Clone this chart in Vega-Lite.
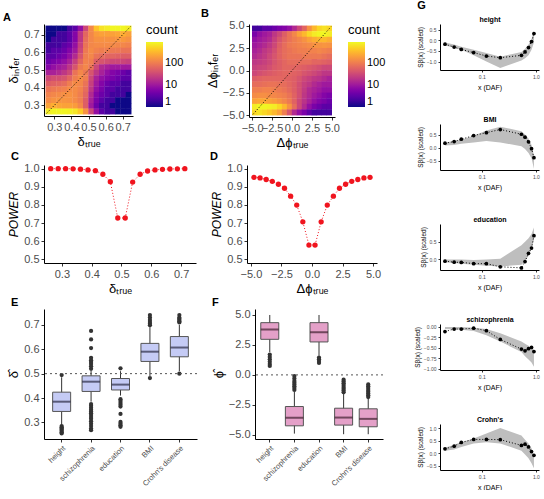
{
"$schema":"https://vega.github.io/schema/vega-lite/v6.json",
"padding":{"left":3,"top":0,"right":1,"bottom":0},
"align":"none",
"config":{
 "font":"Liberation Sans",
 "view":{"stroke":null},
 "axis":{"grid":false,"domainColor":"#000","tickColor":"#333","labelColor":"#4d4d4d","titleColor":"#000","titleFontWeight":"normal","tickSize":3,"labelPadding":2,"labelFontSize":11,"titleFontSize":13,"labelOverlap":false,"titlePadding":3},
 "title":{"fontWeight":"bold","color":"#000"},
 "legend":{"titleFontWeight":"normal","titleFontSize":13,"labelFontSize":11,"labelColor":"#000","titleColor":"#000"}
},
"datasets":{
"heatA":[
{"dt":0.2656,"di":0.7344,"n":1},{"dt":0.2969,"di":0.7344,"n":1},{"dt":0.3281,"di":0.7344,"n":1},{"dt":0.3594,"di":0.7344,"n":1},{"dt":0.3906,"di":0.7344,"n":2},{"dt":0.4219,"di":0.7344,"n":3},{"dt":0.4531,"di":0.7344,"n":8},{"dt":0.4844,"di":0.7344,"n":30},{"dt":0.5156,"di":0.7344,"n":120},{"dt":0.5469,"di":0.7344,"n":350},{"dt":0.5781,"di":0.7344,"n":600},{"dt":0.6094,"di":0.7344,"n":700},{"dt":0.6406,"di":0.7344,"n":800},{"dt":0.6719,"di":0.7344,"n":800},{"dt":0.7031,"di":0.7344,"n":800},{"dt":0.7344,"di":0.7344,"n":700},
{"dt":0.2656,"di":0.7031,"n":1},{"dt":0.2969,"di":0.7031,"n":1},{"dt":0.3281,"di":0.7031,"n":2},{"dt":0.3594,"di":0.7031,"n":2},{"dt":0.3906,"di":0.7031,"n":3},{"dt":0.4219,"di":0.7031,"n":6},{"dt":0.4531,"di":0.7031,"n":20},{"dt":0.4844,"di":0.7031,"n":60},{"dt":0.5156,"di":0.7031,"n":120},{"dt":0.5469,"di":0.7031,"n":180},{"dt":0.5781,"di":0.7031,"n":200},{"dt":0.6094,"di":0.7031,"n":200},{"dt":0.6406,"di":0.7031,"n":200},{"dt":0.6719,"di":0.7031,"n":220},{"dt":0.7031,"di":0.7031,"n":250},{"dt":0.7344,"di":0.7031,"n":200},
{"dt":0.2656,"di":0.6719,"n":1},{"dt":0.2969,"di":0.6719,"n":2},{"dt":0.3281,"di":0.6719,"n":2},{"dt":0.3594,"di":0.6719,"n":2},{"dt":0.3906,"di":0.6719,"n":3},{"dt":0.4219,"di":0.6719,"n":6},{"dt":0.4531,"di":0.6719,"n":20},{"dt":0.4844,"di":0.6719,"n":70},{"dt":0.5156,"di":0.6719,"n":120},{"dt":0.5469,"di":0.6719,"n":150},{"dt":0.5781,"di":0.6719,"n":150},{"dt":0.6094,"di":0.6719,"n":150},{"dt":0.6406,"di":0.6719,"n":150},{"dt":0.6719,"di":0.6719,"n":160},{"dt":0.7031,"di":0.6719,"n":170},{"dt":0.7344,"di":0.6719,"n":150},
{"dt":0.2656,"di":0.6406,"n":2},{"dt":0.2969,"di":0.6406,"n":2},{"dt":0.3281,"di":0.6406,"n":2},{"dt":0.3594,"di":0.6406,"n":3},{"dt":0.3906,"di":0.6406,"n":4},{"dt":0.4219,"di":0.6406,"n":8},{"dt":0.4531,"di":0.6406,"n":25},{"dt":0.4844,"di":0.6406,"n":80},{"dt":0.5156,"di":0.6406,"n":120},{"dt":0.5469,"di":0.6406,"n":130},{"dt":0.5781,"di":0.6406,"n":130},{"dt":0.6094,"di":0.6406,"n":130},{"dt":0.6406,"di":0.6406,"n":130},{"dt":0.6719,"di":0.6406,"n":120},{"dt":0.7031,"di":0.6406,"n":120},{"dt":0.7344,"di":0.6406,"n":110},
{"dt":0.2656,"di":0.6094,"n":2},{"dt":0.2969,"di":0.6094,"n":3},{"dt":0.3281,"di":0.6094,"n":3},{"dt":0.3594,"di":0.6094,"n":4},{"dt":0.3906,"di":0.6094,"n":6},{"dt":0.4219,"di":0.6094,"n":10},{"dt":0.4531,"di":0.6094,"n":30},{"dt":0.4844,"di":0.6094,"n":90},{"dt":0.5156,"di":0.6094,"n":130},{"dt":0.5469,"di":0.6094,"n":110},{"dt":0.5781,"di":0.6094,"n":100},{"dt":0.6094,"di":0.6094,"n":100},{"dt":0.6406,"di":0.6094,"n":90},{"dt":0.6719,"di":0.6094,"n":90},{"dt":0.7031,"di":0.6094,"n":80},{"dt":0.7344,"di":0.6094,"n":80},
{"dt":0.2656,"di":0.5781,"n":3},{"dt":0.2969,"di":0.5781,"n":3},{"dt":0.3281,"di":0.5781,"n":4},{"dt":0.3594,"di":0.5781,"n":5},{"dt":0.3906,"di":0.5781,"n":8},{"dt":0.4219,"di":0.5781,"n":15},{"dt":0.4531,"di":0.5781,"n":40},{"dt":0.4844,"di":0.5781,"n":100},{"dt":0.5156,"di":0.5781,"n":120},{"dt":0.5469,"di":0.5781,"n":80},{"dt":0.5781,"di":0.5781,"n":70},{"dt":0.6094,"di":0.5781,"n":60},{"dt":0.6406,"di":0.5781,"n":60},{"dt":0.6719,"di":0.5781,"n":55},{"dt":0.7031,"di":0.5781,"n":50},{"dt":0.7344,"di":0.5781,"n":50},
{"dt":0.2656,"di":0.5469,"n":4},{"dt":0.2969,"di":0.5469,"n":5},{"dt":0.3281,"di":0.5469,"n":6},{"dt":0.3594,"di":0.5469,"n":8},{"dt":0.3906,"di":0.5469,"n":12},{"dt":0.4219,"di":0.5469,"n":25},{"dt":0.4531,"di":0.5469,"n":60},{"dt":0.4844,"di":0.5469,"n":110},{"dt":0.5156,"di":0.5469,"n":100},{"dt":0.5469,"di":0.5469,"n":50},{"dt":0.5781,"di":0.5469,"n":40},{"dt":0.6094,"di":0.5469,"n":35},{"dt":0.6406,"di":0.5469,"n":30},{"dt":0.6719,"di":0.5469,"n":30},{"dt":0.7031,"di":0.5469,"n":28},{"dt":0.7344,"di":0.5469,"n":25},
{"dt":0.2656,"di":0.5156,"n":6},{"dt":0.2969,"di":0.5156,"n":8},{"dt":0.3281,"di":0.5156,"n":10},{"dt":0.3594,"di":0.5156,"n":12},{"dt":0.3906,"di":0.5156,"n":20},{"dt":0.4219,"di":0.5156,"n":40},{"dt":0.4531,"di":0.5156,"n":90},{"dt":0.4844,"di":0.5156,"n":120},{"dt":0.5156,"di":0.5156,"n":80},{"dt":0.5469,"di":0.5156,"n":30},{"dt":0.5781,"di":0.5156,"n":15},{"dt":0.6094,"di":0.5156,"n":12},{"dt":0.6406,"di":0.5156,"n":10},{"dt":0.6719,"di":0.5156,"n":10},{"dt":0.7031,"di":0.5156,"n":10},{"dt":0.7344,"di":0.5156,"n":10},
{"dt":0.2656,"di":0.4844,"n":12},{"dt":0.2969,"di":0.4844,"n":12},{"dt":0.3281,"di":0.4844,"n":15},{"dt":0.3594,"di":0.4844,"n":20},{"dt":0.3906,"di":0.4844,"n":30},{"dt":0.4219,"di":0.4844,"n":80},{"dt":0.4531,"di":0.4844,"n":120},{"dt":0.4844,"di":0.4844,"n":90},{"dt":0.5156,"di":0.4844,"n":40},{"dt":0.5469,"di":0.4844,"n":20},{"dt":0.5781,"di":0.4844,"n":12},{"dt":0.6094,"di":0.4844,"n":8},{"dt":0.6406,"di":0.4844,"n":6},{"dt":0.6719,"di":0.4844,"n":5},{"dt":0.7031,"di":0.4844,"n":4},{"dt":0.7344,"di":0.4844,"n":3},
{"dt":0.2656,"di":0.4531,"n":30},{"dt":0.2969,"di":0.4531,"n":35},{"dt":0.3281,"di":0.4531,"n":35},{"dt":0.3594,"di":0.4531,"n":40},{"dt":0.3906,"di":0.4531,"n":60},{"dt":0.4219,"di":0.4531,"n":100},{"dt":0.4531,"di":0.4531,"n":130},{"dt":0.4844,"di":0.4531,"n":100},{"dt":0.5156,"di":0.4531,"n":30},{"dt":0.5469,"di":0.4531,"n":12},{"dt":0.5781,"di":0.4531,"n":8},{"dt":0.6094,"di":0.4531,"n":6},{"dt":0.6406,"di":0.4531,"n":5},{"dt":0.6719,"di":0.4531,"n":4},{"dt":0.7031,"di":0.4531,"n":3},{"dt":0.7344,"di":0.4531,"n":3},
{"dt":0.2656,"di":0.4219,"n":50},{"dt":0.2969,"di":0.4219,"n":55},{"dt":0.3281,"di":0.4219,"n":60},{"dt":0.3594,"di":0.4219,"n":70},{"dt":0.3906,"di":0.4219,"n":100},{"dt":0.4219,"di":0.4219,"n":130},{"dt":0.4531,"di":0.4219,"n":120},{"dt":0.4844,"di":0.4219,"n":80},{"dt":0.5156,"di":0.4219,"n":25},{"dt":0.5469,"di":0.4219,"n":10},{"dt":0.5781,"di":0.4219,"n":6},{"dt":0.6094,"di":0.4219,"n":4},{"dt":0.6406,"di":0.4219,"n":3},{"dt":0.6719,"di":0.4219,"n":3},{"dt":0.7031,"di":0.4219,"n":2},{"dt":0.7344,"di":0.4219,"n":2},
{"dt":0.2656,"di":0.3906,"n":80},{"dt":0.2969,"di":0.3906,"n":90},{"dt":0.3281,"di":0.3906,"n":100},{"dt":0.3594,"di":0.3906,"n":110},{"dt":0.3906,"di":0.3906,"n":130},{"dt":0.4219,"di":0.3906,"n":130},{"dt":0.4531,"di":0.3906,"n":110},{"dt":0.4844,"di":0.3906,"n":70},{"dt":0.5156,"di":0.3906,"n":20},{"dt":0.5469,"di":0.3906,"n":8},{"dt":0.5781,"di":0.3906,"n":5},{"dt":0.6094,"di":0.3906,"n":3},{"dt":0.6406,"di":0.3906,"n":3},{"dt":0.6719,"di":0.3906,"n":2},{"dt":0.7031,"di":0.3906,"n":2},{"dt":0.7344,"di":0.3906,"n":2},
{"dt":0.2656,"di":0.3594,"n":110},{"dt":0.2969,"di":0.3594,"n":120},{"dt":0.3281,"di":0.3594,"n":130},{"dt":0.3594,"di":0.3594,"n":140},{"dt":0.3906,"di":0.3594,"n":150},{"dt":0.4219,"di":0.3594,"n":130},{"dt":0.4531,"di":0.3594,"n":100},{"dt":0.4844,"di":0.3594,"n":60},{"dt":0.5156,"di":0.3594,"n":15},{"dt":0.5469,"di":0.3594,"n":6},{"dt":0.5781,"di":0.3594,"n":4},{"dt":0.6094,"di":0.3594,"n":3},{"dt":0.6406,"di":0.3594,"n":2},{"dt":0.6719,"di":0.3594,"n":2},{"dt":0.7031,"di":0.3594,"n":2},{"dt":0.7344,"di":0.3594,"n":1},
{"dt":0.2656,"di":0.3281,"n":130},{"dt":0.2969,"di":0.3281,"n":150},{"dt":0.3281,"di":0.3281,"n":160},{"dt":0.3594,"di":0.3281,"n":160},{"dt":0.3906,"di":0.3281,"n":150},{"dt":0.4219,"di":0.3281,"n":130},{"dt":0.4531,"di":0.3281,"n":100},{"dt":0.4844,"di":0.3281,"n":50},{"dt":0.5156,"di":0.3281,"n":12},{"dt":0.5469,"di":0.3281,"n":5},{"dt":0.5781,"di":0.3281,"n":3},{"dt":0.6094,"di":0.3281,"n":2},{"dt":0.6406,"di":0.3281,"n":2},{"dt":0.6719,"di":0.3281,"n":1},{"dt":0.7031,"di":0.3281,"n":1},{"dt":0.7344,"di":0.3281,"n":1},
{"dt":0.2656,"di":0.2969,"n":200},{"dt":0.2969,"di":0.2969,"n":250},{"dt":0.3281,"di":0.2969,"n":220},{"dt":0.3594,"di":0.2969,"n":200},{"dt":0.3906,"di":0.2969,"n":200},{"dt":0.4219,"di":0.2969,"n":180},{"dt":0.4531,"di":0.2969,"n":120},{"dt":0.4844,"di":0.2969,"n":50},{"dt":0.5156,"di":0.2969,"n":10},{"dt":0.5469,"di":0.2969,"n":4},{"dt":0.5781,"di":0.2969,"n":2},{"dt":0.6094,"di":0.2969,"n":2},{"dt":0.6406,"di":0.2969,"n":1},{"dt":0.6719,"di":0.2969,"n":1},{"dt":0.7031,"di":0.2969,"n":1},{"dt":0.7344,"di":0.2969,"n":1},
{"dt":0.2656,"di":0.2656,"n":700},{"dt":0.2969,"di":0.2656,"n":800},{"dt":0.3281,"di":0.2656,"n":800},{"dt":0.3594,"di":0.2656,"n":800},{"dt":0.3906,"di":0.2656,"n":750},{"dt":0.4219,"di":0.2656,"n":650},{"dt":0.4531,"di":0.2656,"n":400},{"dt":0.4844,"di":0.2656,"n":150},{"dt":0.5156,"di":0.2656,"n":30},{"dt":0.5469,"di":0.2656,"n":8},{"dt":0.5781,"di":0.2656,"n":3},{"dt":0.6094,"di":0.2656,"n":2},{"dt":0.6406,"di":0.2656,"n":2},{"dt":0.6719,"di":0.2656,"n":1},{"dt":0.7031,"di":0.2656,"n":1},{"dt":0.7344,"di":0.2656,"n":1}
],
"heatB":[
{"pt":-4.6875,"pi":4.6875,"n":2},{"pt":-4.0625,"pi":4.6875,"n":2},{"pt":-3.4375,"pi":4.6875,"n":3},{"pt":-2.8125,"pi":4.6875,"n":3},{"pt":-2.1875,"pi":4.6875,"n":4},{"pt":-1.5625,"pi":4.6875,"n":5},{"pt":-0.9375,"pi":4.6875,"n":6},{"pt":-0.3125,"pi":4.6875,"n":8},{"pt":0.3125,"pi":4.6875,"n":15},{"pt":0.9375,"pi":4.6875,"n":30},{"pt":1.5625,"pi":4.6875,"n":60},{"pt":2.1875,"pi":4.6875,"n":150},{"pt":2.8125,"pi":4.6875,"n":300},{"pt":3.4375,"pi":4.6875,"n":500},{"pt":4.0625,"pi":4.6875,"n":600},{"pt":4.6875,"pi":4.6875,"n":500},
{"pt":-4.6875,"pi":4.0625,"n":5},{"pt":-4.0625,"pi":4.0625,"n":8},{"pt":-3.4375,"pi":4.0625,"n":10},{"pt":-2.8125,"pi":4.0625,"n":12},{"pt":-2.1875,"pi":4.0625,"n":20},{"pt":-1.5625,"pi":4.0625,"n":30},{"pt":-0.9375,"pi":4.0625,"n":50},{"pt":-0.3125,"pi":4.0625,"n":80},{"pt":0.3125,"pi":4.0625,"n":120},{"pt":0.9375,"pi":4.0625,"n":200},{"pt":1.5625,"pi":4.0625,"n":300},{"pt":2.1875,"pi":4.0625,"n":500},{"pt":2.8125,"pi":4.0625,"n":700},{"pt":3.4375,"pi":4.0625,"n":800},{"pt":4.0625,"pi":4.0625,"n":800},{"pt":4.6875,"pi":4.0625,"n":700},
{"pt":-4.6875,"pi":3.4375,"n":8},{"pt":-4.0625,"pi":3.4375,"n":10},{"pt":-3.4375,"pi":3.4375,"n":12},{"pt":-2.8125,"pi":3.4375,"n":15},{"pt":-2.1875,"pi":3.4375,"n":25},{"pt":-1.5625,"pi":3.4375,"n":40},{"pt":-0.9375,"pi":3.4375,"n":60},{"pt":-0.3125,"pi":3.4375,"n":80},{"pt":0.3125,"pi":3.4375,"n":100},{"pt":0.9375,"pi":3.4375,"n":120},{"pt":1.5625,"pi":3.4375,"n":150},{"pt":2.1875,"pi":3.4375,"n":200},{"pt":2.8125,"pi":3.4375,"n":250},{"pt":3.4375,"pi":3.4375,"n":300},{"pt":4.0625,"pi":3.4375,"n":300},{"pt":4.6875,"pi":3.4375,"n":250},
{"pt":-4.6875,"pi":2.8125,"n":10},{"pt":-4.0625,"pi":2.8125,"n":12},{"pt":-3.4375,"pi":2.8125,"n":15},{"pt":-2.8125,"pi":2.8125,"n":20},{"pt":-2.1875,"pi":2.8125,"n":30},{"pt":-1.5625,"pi":2.8125,"n":50},{"pt":-0.9375,"pi":2.8125,"n":70},{"pt":-0.3125,"pi":2.8125,"n":90},{"pt":0.3125,"pi":2.8125,"n":100},{"pt":0.9375,"pi":2.8125,"n":110},{"pt":1.5625,"pi":2.8125,"n":120},{"pt":2.1875,"pi":2.8125,"n":130},{"pt":2.8125,"pi":2.8125,"n":150},{"pt":3.4375,"pi":2.8125,"n":150},{"pt":4.0625,"pi":2.8125,"n":160},{"pt":4.6875,"pi":2.8125,"n":150},
{"pt":-4.6875,"pi":2.1875,"n":12},{"pt":-4.0625,"pi":2.1875,"n":15},{"pt":-3.4375,"pi":2.1875,"n":20},{"pt":-2.8125,"pi":2.1875,"n":25},{"pt":-2.1875,"pi":2.1875,"n":35},{"pt":-1.5625,"pi":2.1875,"n":55},{"pt":-0.9375,"pi":2.1875,"n":70},{"pt":-0.3125,"pi":2.1875,"n":80},{"pt":0.3125,"pi":2.1875,"n":90},{"pt":0.9375,"pi":2.1875,"n":100},{"pt":1.5625,"pi":2.1875,"n":100},{"pt":2.1875,"pi":2.1875,"n":110},{"pt":2.8125,"pi":2.1875,"n":110},{"pt":3.4375,"pi":2.1875,"n":120},{"pt":4.0625,"pi":2.1875,"n":110},{"pt":4.6875,"pi":2.1875,"n":100},
{"pt":-4.6875,"pi":1.5625,"n":15},{"pt":-4.0625,"pi":1.5625,"n":18},{"pt":-3.4375,"pi":1.5625,"n":22},{"pt":-2.8125,"pi":1.5625,"n":30},{"pt":-2.1875,"pi":1.5625,"n":40},{"pt":-1.5625,"pi":1.5625,"n":55},{"pt":-0.9375,"pi":1.5625,"n":70},{"pt":-0.3125,"pi":1.5625,"n":80},{"pt":0.3125,"pi":1.5625,"n":80},{"pt":0.9375,"pi":1.5625,"n":80},{"pt":1.5625,"pi":1.5625,"n":90},{"pt":2.1875,"pi":1.5625,"n":90},{"pt":2.8125,"pi":1.5625,"n":90},{"pt":3.4375,"pi":1.5625,"n":90},{"pt":4.0625,"pi":1.5625,"n":80},{"pt":4.6875,"pi":1.5625,"n":70},
{"pt":-4.6875,"pi":0.9375,"n":20},{"pt":-4.0625,"pi":0.9375,"n":22},{"pt":-3.4375,"pi":0.9375,"n":25},{"pt":-2.8125,"pi":0.9375,"n":30},{"pt":-2.1875,"pi":0.9375,"n":40},{"pt":-1.5625,"pi":0.9375,"n":50},{"pt":-0.9375,"pi":0.9375,"n":60},{"pt":-0.3125,"pi":0.9375,"n":70},{"pt":0.3125,"pi":0.9375,"n":70},{"pt":0.9375,"pi":0.9375,"n":70},{"pt":1.5625,"pi":0.9375,"n":70},{"pt":2.1875,"pi":0.9375,"n":70},{"pt":2.8125,"pi":0.9375,"n":60},{"pt":3.4375,"pi":0.9375,"n":60},{"pt":4.0625,"pi":0.9375,"n":55},{"pt":4.6875,"pi":0.9375,"n":50},
{"pt":-4.6875,"pi":0.3125,"n":25},{"pt":-4.0625,"pi":0.3125,"n":28},{"pt":-3.4375,"pi":0.3125,"n":30},{"pt":-2.8125,"pi":0.3125,"n":35},{"pt":-2.1875,"pi":0.3125,"n":45},{"pt":-1.5625,"pi":0.3125,"n":50},{"pt":-0.9375,"pi":0.3125,"n":60},{"pt":-0.3125,"pi":0.3125,"n":60},{"pt":0.3125,"pi":0.3125,"n":60},{"pt":0.9375,"pi":0.3125,"n":55},{"pt":1.5625,"pi":0.3125,"n":50},{"pt":2.1875,"pi":0.3125,"n":45},{"pt":2.8125,"pi":0.3125,"n":40},{"pt":3.4375,"pi":0.3125,"n":35},{"pt":4.0625,"pi":0.3125,"n":30},{"pt":4.6875,"pi":0.3125,"n":30},
{"pt":-4.6875,"pi":-0.3125,"n":30},{"pt":-4.0625,"pi":-0.3125,"n":35},{"pt":-3.4375,"pi":-0.3125,"n":40},{"pt":-2.8125,"pi":-0.3125,"n":45},{"pt":-2.1875,"pi":-0.3125,"n":50},{"pt":-1.5625,"pi":-0.3125,"n":55},{"pt":-0.9375,"pi":-0.3125,"n":60},{"pt":-0.3125,"pi":-0.3125,"n":60},{"pt":0.3125,"pi":-0.3125,"n":55},{"pt":0.9375,"pi":-0.3125,"n":50},{"pt":1.5625,"pi":-0.3125,"n":40},{"pt":2.1875,"pi":-0.3125,"n":35},{"pt":2.8125,"pi":-0.3125,"n":30},{"pt":3.4375,"pi":-0.3125,"n":25},{"pt":4.0625,"pi":-0.3125,"n":20},{"pt":4.6875,"pi":-0.3125,"n":20},
{"pt":-4.6875,"pi":-0.9375,"n":50},{"pt":-4.0625,"pi":-0.9375,"n":55},{"pt":-3.4375,"pi":-0.9375,"n":60},{"pt":-2.8125,"pi":-0.9375,"n":60},{"pt":-2.1875,"pi":-0.9375,"n":60},{"pt":-1.5625,"pi":-0.9375,"n":60},{"pt":-0.9375,"pi":-0.9375,"n":60},{"pt":-0.3125,"pi":-0.9375,"n":55},{"pt":0.3125,"pi":-0.9375,"n":50},{"pt":0.9375,"pi":-0.9375,"n":40},{"pt":1.5625,"pi":-0.9375,"n":30},{"pt":2.1875,"pi":-0.9375,"n":25},{"pt":2.8125,"pi":-0.9375,"n":20},{"pt":3.4375,"pi":-0.9375,"n":18},{"pt":4.0625,"pi":-0.9375,"n":15},{"pt":4.6875,"pi":-0.9375,"n":12},
{"pt":-4.6875,"pi":-1.5625,"n":70},{"pt":-4.0625,"pi":-1.5625,"n":70},{"pt":-3.4375,"pi":-1.5625,"n":75},{"pt":-2.8125,"pi":-1.5625,"n":80},{"pt":-2.1875,"pi":-1.5625,"n":80},{"pt":-1.5625,"pi":-1.5625,"n":75},{"pt":-0.9375,"pi":-1.5625,"n":70},{"pt":-0.3125,"pi":-1.5625,"n":60},{"pt":0.3125,"pi":-1.5625,"n":50},{"pt":0.9375,"pi":-1.5625,"n":35},{"pt":1.5625,"pi":-1.5625,"n":25},{"pt":2.1875,"pi":-1.5625,"n":20},{"pt":2.8125,"pi":-1.5625,"n":15},{"pt":3.4375,"pi":-1.5625,"n":12},{"pt":4.0625,"pi":-1.5625,"n":10},{"pt":4.6875,"pi":-1.5625,"n":10},
{"pt":-4.6875,"pi":-2.1875,"n":100},{"pt":-4.0625,"pi":-2.1875,"n":100},{"pt":-3.4375,"pi":-2.1875,"n":110},{"pt":-2.8125,"pi":-2.1875,"n":110},{"pt":-2.1875,"pi":-2.1875,"n":100},{"pt":-1.5625,"pi":-2.1875,"n":90},{"pt":-0.9375,"pi":-2.1875,"n":80},{"pt":-0.3125,"pi":-2.1875,"n":65},{"pt":0.3125,"pi":-2.1875,"n":50},{"pt":0.9375,"pi":-2.1875,"n":35},{"pt":1.5625,"pi":-2.1875,"n":22},{"pt":2.1875,"pi":-2.1875,"n":15},{"pt":2.8125,"pi":-2.1875,"n":12},{"pt":3.4375,"pi":-2.1875,"n":10},{"pt":4.0625,"pi":-2.1875,"n":8},{"pt":4.6875,"pi":-2.1875,"n":8},
{"pt":-4.6875,"pi":-2.8125,"n":130},{"pt":-4.0625,"pi":-2.8125,"n":140},{"pt":-3.4375,"pi":-2.8125,"n":140},{"pt":-2.8125,"pi":-2.8125,"n":130},{"pt":-2.1875,"pi":-2.8125,"n":120},{"pt":-1.5625,"pi":-2.8125,"n":110},{"pt":-0.9375,"pi":-2.8125,"n":100},{"pt":-0.3125,"pi":-2.8125,"n":80},{"pt":0.3125,"pi":-2.8125,"n":55},{"pt":0.9375,"pi":-2.8125,"n":35},{"pt":1.5625,"pi":-2.8125,"n":20},{"pt":2.1875,"pi":-2.8125,"n":14},{"pt":2.8125,"pi":-2.8125,"n":10},{"pt":3.4375,"pi":-2.8125,"n":8},{"pt":4.0625,"pi":-2.8125,"n":6},{"pt":4.6875,"pi":-2.8125,"n":5},
{"pt":-4.6875,"pi":-3.4375,"n":200},{"pt":-4.0625,"pi":-3.4375,"n":220},{"pt":-3.4375,"pi":-3.4375,"n":220},{"pt":-2.8125,"pi":-3.4375,"n":200},{"pt":-2.1875,"pi":-3.4375,"n":180},{"pt":-1.5625,"pi":-3.4375,"n":150},{"pt":-0.9375,"pi":-3.4375,"n":120},{"pt":-0.3125,"pi":-3.4375,"n":90},{"pt":0.3125,"pi":-3.4375,"n":55},{"pt":0.9375,"pi":-3.4375,"n":30},{"pt":1.5625,"pi":-3.4375,"n":18},{"pt":2.1875,"pi":-3.4375,"n":12},{"pt":2.8125,"pi":-3.4375,"n":8},{"pt":3.4375,"pi":-3.4375,"n":6},{"pt":4.0625,"pi":-3.4375,"n":5},{"pt":4.6875,"pi":-3.4375,"n":4},
{"pt":-4.6875,"pi":-4.0625,"n":700},{"pt":-4.0625,"pi":-4.0625,"n":800},{"pt":-3.4375,"pi":-4.0625,"n":800},{"pt":-2.8125,"pi":-4.0625,"n":750},{"pt":-2.1875,"pi":-4.0625,"n":700},{"pt":-1.5625,"pi":-4.0625,"n":500},{"pt":-0.9375,"pi":-4.0625,"n":300},{"pt":-0.3125,"pi":-4.0625,"n":150},{"pt":0.3125,"pi":-4.0625,"n":70},{"pt":0.9375,"pi":-4.0625,"n":30},{"pt":1.5625,"pi":-4.0625,"n":15},{"pt":2.1875,"pi":-4.0625,"n":8},{"pt":2.8125,"pi":-4.0625,"n":5},{"pt":3.4375,"pi":-4.0625,"n":4},{"pt":4.0625,"pi":-4.0625,"n":3},{"pt":4.6875,"pi":-4.0625,"n":3},
{"pt":-4.6875,"pi":-4.6875,"n":500},{"pt":-4.0625,"pi":-4.6875,"n":600},{"pt":-3.4375,"pi":-4.6875,"n":500},{"pt":-2.8125,"pi":-4.6875,"n":400},{"pt":-2.1875,"pi":-4.6875,"n":300},{"pt":-1.5625,"pi":-4.6875,"n":200},{"pt":-0.9375,"pi":-4.6875,"n":100},{"pt":-0.3125,"pi":-4.6875,"n":40},{"pt":0.3125,"pi":-4.6875,"n":15},{"pt":0.9375,"pi":-4.6875,"n":8},{"pt":1.5625,"pi":-4.6875,"n":5},{"pt":2.1875,"pi":-4.6875,"n":3},{"pt":2.8125,"pi":-4.6875,"n":2},{"pt":3.4375,"pi":-4.6875,"n":2},{"pt":4.0625,"pi":-4.6875,"n":2},{"pt":4.6875,"pi":-4.6875,"n":2}
],
"diagA":[{"dt":0.255,"di":0.255},{"dt":0.745,"di":0.745}],
"diagB":[{"pt":-4.9,"pi":-4.9},{"pt":4.9,"pi":4.9}],
"powC":[{"d":0.2625,"p":1.0},{"d":0.2875,"p":1.0},{"d":0.3125,"p":1.0},{"d":0.3375,"p":0.999},{"d":0.3625,"p":0.997},{"d":0.3875,"p":0.993},{"d":0.4125,"p":0.989},{"d":0.4375,"p":0.969},{"d":0.4625,"p":0.928},{"d":0.4875,"p":0.728},{"d":0.5125,"p":0.728},{"d":0.5375,"p":0.926},{"d":0.5625,"p":0.969},{"d":0.5875,"p":0.987},{"d":0.6125,"p":0.993},{"d":0.6375,"p":0.996},{"d":0.6625,"p":0.998},{"d":0.6875,"p":0.999},{"d":0.7125,"p":1.0}],
"powD":[{"d":-4.75,"p":0.952},{"d":-4.25,"p":0.949},{"d":-3.75,"p":0.94},{"d":-3.25,"p":0.93},{"d":-2.75,"p":0.914},{"d":-2.25,"p":0.892},{"d":-1.75,"p":0.848},{"d":-1.25,"p":0.799},{"d":-0.75,"p":0.707},{"d":-0.25,"p":0.579},{"d":0.25,"p":0.579},{"d":0.75,"p":0.707},{"d":1.25,"p":0.799},{"d":1.75,"p":0.848},{"d":2.25,"p":0.892},{"d":2.75,"p":0.914},{"d":3.25,"p":0.93},{"d":3.75,"p":0.94},{"d":4.25,"p":0.949},{"d":4.75,"p":0.952}],
"boxE":[
{"trait":"height","lo":0.29,"q1":0.345,"med":0.385,"q3":0.424,"hi":0.485},
{"trait":"schizophrenia","lo":0.385,"q1":0.427,"med":0.467,"q3":0.491,"hi":0.512},
{"trait":"education","lo":0.41,"q1":0.433,"med":0.455,"q3":0.48,"hi":0.51},
{"trait":"BMI","lo":0.49,"q1":0.55,"med":0.59,"q3":0.624,"hi":0.69},
{"trait":"Crohn's disease","lo":0.51,"q1":0.569,"med":0.607,"q3":0.652,"hi":0.7}],
"outE":[
{"trait":"height","v":0.494},{"trait":"height","v":0.285},{"trait":"height","v":0.28},{"trait":"height","v":0.275},{"trait":"height","v":0.27},{"trait":"height","v":0.265},{"trait":"height","v":0.26},{"trait":"height","v":0.255},
{"trait":"schizophrenia","v":0.675},{"trait":"schizophrenia","v":0.64},{"trait":"schizophrenia","v":0.605},{"trait":"schizophrenia","v":0.565},{"trait":"schizophrenia","v":0.555},{"trait":"schizophrenia","v":0.548},{"trait":"schizophrenia","v":0.54},{"trait":"schizophrenia","v":0.53},{"trait":"schizophrenia","v":0.52},
{"trait":"schizophrenia","v":0.375},{"trait":"schizophrenia","v":0.368},{"trait":"schizophrenia","v":0.36},{"trait":"schizophrenia","v":0.352},{"trait":"schizophrenia","v":0.345},{"trait":"schizophrenia","v":0.338},{"trait":"schizophrenia","v":0.33},{"trait":"schizophrenia","v":0.322},{"trait":"schizophrenia","v":0.315},{"trait":"schizophrenia","v":0.305},{"trait":"schizophrenia","v":0.295},{"trait":"schizophrenia","v":0.285},{"trait":"schizophrenia","v":0.275},{"trait":"schizophrenia","v":0.268},
{"trait":"education","v":0.522},{"trait":"education","v":0.395},{"trait":"education","v":0.388},{"trait":"education","v":0.38},{"trait":"education","v":0.372},{"trait":"education","v":0.365},{"trait":"education","v":0.335},{"trait":"education","v":0.302},{"trait":"education","v":0.295},{"trait":"education","v":0.288},{"trait":"education","v":0.282},
{"trait":"BMI","v":0.698},{"trait":"BMI","v":0.705},{"trait":"BMI","v":0.712},{"trait":"BMI","v":0.72},{"trait":"BMI","v":0.73},{"trait":"BMI","v":0.74},{"trait":"BMI","v":0.482},
{"trait":"Crohn's disease","v":0.71},{"trait":"Crohn's disease","v":0.715},{"trait":"Crohn's disease","v":0.72},{"trait":"Crohn's disease","v":0.725},{"trait":"Crohn's disease","v":0.73},{"trait":"Crohn's disease","v":0.74},{"trait":"Crohn's disease","v":0.5}],
"boxF":[
{"trait":"height","lo":1.9,"q1":2.97,"med":3.78,"q3":4.36,"hi":5.0},
{"trait":"schizophrenia","lo":-4.9,"q1":-4.25,"med":-3.58,"q3":-2.64,"hi":-1.4},
{"trait":"education","lo":1.6,"q1":2.75,"med":3.56,"q3":4.36,"hi":5.0},
{"trait":"BMI","lo":-4.95,"q1":-4.19,"med":-3.56,"q3":-2.78,"hi":-1.6},
{"trait":"Crohn's disease","lo":-4.95,"q1":-4.33,"med":-3.67,"q3":-2.83,"hi":-1.95}],
"outF":[
{"trait":"height","v":1.7},{"trait":"height","v":1.5},{"trait":"height","v":1.3},{"trait":"height","v":1.1},{"trait":"height","v":0.9},{"trait":"height","v":0.75},
{"trait":"schizophrenia","v":-1.25},{"trait":"schizophrenia","v":-1.1},{"trait":"schizophrenia","v":-0.95},{"trait":"schizophrenia","v":-0.8},{"trait":"schizophrenia","v":-0.65},{"trait":"schizophrenia","v":-0.5},{"trait":"schizophrenia","v":-0.3},{"trait":"schizophrenia","v":-0.1},
{"trait":"education","v":1.45},{"trait":"education","v":1.3},{"trait":"education","v":1.15},{"trait":"education","v":1.0},
{"trait":"BMI","v":-1.45},{"trait":"BMI","v":-1.3},{"trait":"BMI","v":-1.15},{"trait":"BMI","v":-1.0},{"trait":"BMI","v":-0.85},{"trait":"BMI","v":-0.7},{"trait":"BMI","v":-0.55},{"trait":"BMI","v":-0.4},
{"trait":"Crohn's disease","v":-1.85},{"trait":"Crohn's disease","v":-1.7},{"trait":"Crohn's disease","v":-1.55},{"trait":"Crohn's disease","v":-1.4},{"trait":"Crohn's disease","v":-1.25},{"trait":"Crohn's disease","v":-1.1},{"trait":"Crohn's disease","v":-0.95},{"trait":"Crohn's disease","v":-0.8}],
"refE":[{"ref":0.5}],
"refF":[{"ref":0}],
"gdat":[
{"trait":"height","x":0.021,"s":-0.18,"lo":-0.25,"hi":-0.1},{"trait":"height","x":0.031,"s":-0.32,"lo":-0.35,"hi":-0.2},{"trait":"height","x":0.042,"s":-0.43,"lo":-0.45,"hi":-0.3},{"trait":"height","x":0.071,"s":-0.58,"lo":-0.7,"hi":-0.45},{"trait":"height","x":0.122,"s":-0.74,"lo":-1.0,"hi":-0.6},{"trait":"height","x":0.22,"s":-0.82,"lo":-1.3,"hi":-0.78},{"trait":"height","x":0.54,"s":-0.71,"lo":-0.95,"hi":-0.55},{"trait":"height","x":0.63,"s":-0.55,"lo":-0.85,"hi":-0.4},{"trait":"height","x":0.73,"s":-0.34,"lo":-0.7,"hi":-0.2},{"trait":"height","x":0.83,"s":-0.06,"lo":-0.45,"hi":0.05},{"trait":"height","x":0.92,"s":0.32,"lo":-0.1,"hi":0.45},
{"trait":"BMI","x":0.021,"s":0.17,"lo":0.08,"hi":0.2},{"trait":"BMI","x":0.031,"s":0.23,"lo":0.1,"hi":0.25},{"trait":"BMI","x":0.042,"s":0.32,"lo":0.15,"hi":0.3},{"trait":"BMI","x":0.071,"s":0.46,"lo":0.2,"hi":0.45},{"trait":"BMI","x":0.122,"s":0.57,"lo":0.25,"hi":0.65},{"trait":"BMI","x":0.22,"s":0.69,"lo":0.2,"hi":0.8},{"trait":"BMI","x":0.54,"s":0.51,"lo":0.05,"hi":0.62},{"trait":"BMI","x":0.63,"s":0.4,"lo":-0.05,"hi":0.5},{"trait":"BMI","x":0.73,"s":0.22,"lo":-0.2,"hi":0.35},{"trait":"BMI","x":0.83,"s":-0.04,"lo":-0.4,"hi":0.1},{"trait":"BMI","x":0.92,"s":-0.38,"lo":-0.8,"hi":-0.3},
{"trait":"education","x":0.021,"s":-0.05,"lo":-0.08,"hi":0.0},{"trait":"education","x":0.031,"s":-0.08,"lo":-0.1,"hi":0.0},{"trait":"education","x":0.042,"s":-0.085,"lo":-0.12,"hi":0.0},{"trait":"education","x":0.071,"s":-0.12,"lo":-0.15,"hi":-0.02},{"trait":"education","x":0.122,"s":-0.12,"lo":-0.18,"hi":0.0},{"trait":"education","x":0.22,"s":-0.21,"lo":-0.2,"hi":0.02},{"trait":"education","x":0.54,"s":-0.24,"lo":-0.15,"hi":0.4},{"trait":"education","x":0.63,"s":-0.06,"lo":-0.05,"hi":0.5},{"trait":"education","x":0.73,"s":0.17,"lo":0.1,"hi":0.6},{"trait":"education","x":0.83,"s":0.32,"lo":0.3,"hi":0.72},{"trait":"education","x":0.92,"s":0.67,"lo":0.55,"hi":0.9},
{"trait":"schizophrenia","x":0.021,"s":-0.11,"lo":-0.05,"hi":0.0},{"trait":"schizophrenia","x":0.031,"s":-0.05,"lo":-0.06,"hi":0.0},{"trait":"schizophrenia","x":0.042,"s":-0.05,"lo":-0.07,"hi":0.0},{"trait":"schizophrenia","x":0.071,"s":-0.03,"lo":-0.1,"hi":-0.02},{"trait":"schizophrenia","x":0.122,"s":-0.09,"lo":-0.2,"hi":-0.05},{"trait":"schizophrenia","x":0.22,"s":-0.3,"lo":-0.35,"hi":-0.15},{"trait":"schizophrenia","x":0.54,"s":-0.53,"lo":-0.6,"hi":-0.35},{"trait":"schizophrenia","x":0.63,"s":-0.57,"lo":-0.7,"hi":-0.4},{"trait":"schizophrenia","x":0.73,"s":-0.52,"lo":-0.78,"hi":-0.45},{"trait":"schizophrenia","x":0.83,"s":-0.49,"lo":-0.85,"hi":-0.5},{"trait":"schizophrenia","x":0.92,"s":-0.59,"lo":-0.95,"hi":-0.55},
{"trait":"Crohn's","x":0.021,"s":0.18,"lo":0.1,"hi":0.22},{"trait":"Crohn's","x":0.031,"s":0.29,"lo":0.15,"hi":0.35},{"trait":"Crohn's","x":0.042,"s":0.44,"lo":0.25,"hi":0.45},{"trait":"Crohn's","x":0.071,"s":0.56,"lo":0.4,"hi":0.6},{"trait":"Crohn's","x":0.122,"s":0.56,"lo":0.45,"hi":0.8},{"trait":"Crohn's","x":0.22,"s":0.55,"lo":0.4,"hi":1.02},{"trait":"Crohn's","x":0.54,"s":0.32,"lo":0.1,"hi":0.72},{"trait":"Crohn's","x":0.63,"s":0.37,"lo":-0.05,"hi":0.55},{"trait":"Crohn's","x":0.73,"s":0.26,"lo":-0.2,"hi":0.4},{"trait":"Crohn's","x":0.83,"s":0.07,"lo":-0.4,"hi":0.2},{"trait":"Crohn's","x":0.92,"s":-0.08,"lo":-0.6,"hi":-0.1}]
},
"hconcat":[
{"vconcat":[
 {"hconcat":[
  {"width":89,"height":92,
   "title":{"text":"A","anchor":"start","frame":"group","dx":-41,"fontSize":11,"offset":1},
   "layer":[
    {"data":{"name":"heatA"},"mark":{"type":"rect","width":5.7,"height":5.9},
     "encoding":{
      "x":{"field":"dt","type":"quantitative","scale":{"domain":[0.24,0.76],"nice":false,"zero":false},"axis":{"title":"δₜᵣᵤₑ","values":[0.3,0.4,0.5,0.6,0.7],"format":".1f","labelFlush":false}},
      "y":{"field":"di","type":"quantitative","scale":{"domain":[0.24,0.76],"nice":false,"zero":false},"axis":{"title":"δᵢₙfₑᵣ","values":[0.3,0.4,0.5,0.6,0.7],"format":".1f"}},
      "color":{"field":"n","type":"quantitative","scale":{"type":"log","scheme":"plasma","domain":[1,850]},"legend":{"title":"count","values":[1,10,100],"gradientLength":65,"gradientThickness":17,"offset":13}}}},
    {"data":{"name":"diagA"},"mark":{"type":"line","color":"#000","strokeDash":[1,2],"strokeWidth":1},
     "encoding":{"x":{"field":"dt","type":"quantitative","axis":{"title":"δₜᵣᵤₑ","values":[0.3,0.4,0.5,0.6,0.7],"format":".1f","labelFlush":false}},"y":{"field":"di","type":"quantitative","axis":{"title":"δᵢₙfₑᵣ","values":[0.3,0.4,0.5,0.6,0.7],"format":".1f"}}}}
   ]},
  {"width":86,"height":93,
   "title":{"text":"B","anchor":"start","frame":"group","dx":-48,"fontSize":11,"offset":1},
   "layer":[
    {"data":{"name":"heatB"},"mark":{"type":"rect","width":5.3,"height":6},
     "encoding":{
      "x":{"field":"pt","type":"quantitative","scale":{"domain":[-5.4,5.4],"nice":false,"zero":false},"axis":{"title":"Δϕₜᵣᵤₑ","values":[-5,-2.5,0,2.5,5],"format":".1f","labelFlush":false}},
      "y":{"field":"pi","type":"quantitative","scale":{"domain":[-5.2,5.2],"nice":false,"zero":false},"axis":{"title":"Δϕᵢₙfₑᵣ","values":[-5,-2.5,0,2.5,5],"format":".1f"}},
      "color":{"field":"n","type":"quantitative","scale":{"type":"log","scheme":"plasma","domain":[1,850]},"legend":{"title":"count","values":[1,10,100],"gradientLength":65,"gradientThickness":17,"offset":13}}}},
    {"data":{"name":"diagB"},"mark":{"type":"line","color":"#000","strokeDash":[1,2],"strokeWidth":1},
     "encoding":{"x":{"field":"pt","type":"quantitative","axis":{"title":"Δϕₜᵣᵤₑ","values":[-5,-2.5,0,2.5,5],"format":".1f","labelFlush":false}},"y":{"field":"pi","type":"quantitative","axis":{"title":"Δϕᵢₙfₑᵣ","values":[-5,-2.5,0,2.5,5],"format":".1f"}}}}
   ]}
 ],"spacing":17,"resolve":{"scale":{"color":"independent"},"legend":{"color":"independent"}}},
 {"hconcat":[
  {"width":152,"height":98,"data":{"name":"powC"},
   "title":{"text":"C","anchor":"start","frame":"group","dx":-33,"fontSize":11,"offset":1},
   "encoding":{
    "x":{"field":"d","type":"quantitative","scale":{"domain":[0.24,0.75],"nice":false,"zero":false},"axis":{"title":"δₜᵣᵤₑ","values":[0.3,0.4,0.5,0.6,0.7],"format":".1f"}},
    "y":{"field":"p","type":"quantitative","scale":{"domain":[0.48,1.02],"nice":false,"zero":false},"axis":{"title":"POWER","titleFontStyle":"italic","titleFontSize":12,"values":[0.5,0.6,0.7,0.8,0.9,1.0],"format":".1f"}}},
   "layer":[
    {"mark":{"type":"line","color":"#f0141e","strokeDash":[1,2],"strokeWidth":1}},
    {"mark":{"type":"circle","color":"#f0141e","size":28,"opacity":1}}]},
  {"width":130,"height":98,"data":{"name":"powD"},
   "title":{"text":"D","anchor":"start","frame":"group","dx":-37,"fontSize":11,"offset":1},
   "encoding":{
    "x":{"field":"d","type":"quantitative","scale":{"domain":[-5.32,5.32],"nice":false,"zero":false},"axis":{"title":"Δϕₜᵣᵤₑ","values":[-5,-2.5,0,2.5,5],"format":".1f"}},
    "y":{"field":"p","type":"quantitative","scale":{"domain":[0.48,1.02],"nice":false,"zero":false},"axis":{"title":"POWER","titleFontStyle":"italic","titleFontSize":12,"values":[0.5,0.6,0.7,0.8,0.9,1.0],"format":".1f"}}},
   "layer":[
    {"mark":{"type":"line","color":"#f0141e","strokeDash":[1,2],"strokeWidth":1}},
    {"mark":{"type":"circle","color":"#f0141e","size":28,"opacity":1}}]}
 ],"spacing":14},
 {"hconcat":[
  {"width":153,"height":130,
   "title":{"text":"E","anchor":"start","frame":"group","dx":-33,"fontSize":11,"offset":1},
   "layer":[
    {"data":{"name":"boxE"},"mark":{"type":"rule","color":"#333","strokeWidth":1},
     "encoding":{
      "x":{"field":"trait","type":"nominal","scale":{"domain":["height","schizophrenia","education","BMI","Crohn's disease"],"paddingInner":0,"paddingOuter":0.1},"axis":{"title":null,"labelAngle":-45,"labelFontSize":7.5}},
      "y":{"field":"lo","type":"quantitative","scale":{"domain":[0.232,0.765],"nice":false,"zero":false},"axis":{"title":"δ̂","values":[0.3,0.4,0.5,0.6,0.7],"format":".1f"}},
      "y2":{"field":"hi"}}},
    {"data":{"name":"boxE"},"mark":{"type":"bar","size":18,"fill":"#c5cbf5","stroke":"#555","strokeWidth":1},
     "encoding":{"x":{"field":"trait","type":"nominal","axis":{"title":null,"labelAngle":-45,"labelFontSize":7.5}},"y":{"field":"q1","type":"quantitative","axis":{"title":"δ̂","values":[0.3,0.4,0.5,0.6,0.7],"format":".1f"}},"y2":{"field":"q3"}}},
    {"data":{"name":"boxE"},"mark":{"type":"tick","size":18,"thickness":2,"color":"#2b2b44"},
     "encoding":{"x":{"field":"trait","type":"nominal","axis":{"title":null,"labelAngle":-45,"labelFontSize":7.5}},"y":{"field":"med","type":"quantitative","axis":{"title":"δ̂","values":[0.3,0.4,0.5,0.6,0.7],"format":".1f"}}}},
    {"data":{"name":"outE"},"mark":{"type":"circle","size":18,"color":"#333","opacity":1},
     "encoding":{"x":{"field":"trait","type":"nominal","axis":{"title":null,"labelAngle":-45,"labelFontSize":7.5}},"y":{"field":"v","type":"quantitative","axis":{"title":"δ̂","values":[0.3,0.4,0.5,0.6,0.7],"format":".1f"}}}},
    {"data":{"name":"refE"},"mark":{"type":"rule","color":"#555","strokeDash":[2,3],"strokeWidth":1},
     "encoding":{"y":{"field":"ref","type":"quantitative","axis":{"title":"δ̂","values":[0.3,0.4,0.5,0.6,0.7],"format":".1f"}}}}
   ]},
  {"width":128,"height":130,
   "title":{"text":"F","anchor":"start","frame":"group","dx":-43,"fontSize":11,"offset":1},
   "layer":[
    {"data":{"name":"boxF"},"mark":{"type":"rule","color":"#333","strokeWidth":1},
     "encoding":{
      "x":{"field":"trait","type":"nominal","scale":{"domain":["height","schizophrenia","education","BMI","Crohn's disease"],"paddingInner":0,"paddingOuter":0.1},"axis":{"title":null,"labelAngle":-45,"labelFontSize":7.5}},
      "y":{"field":"lo","type":"quantitative","scale":{"domain":[-5.35,5.5],"nice":false,"zero":false},"axis":{"title":"ϕ̂","values":[-5,-2.5,0,2.5,5],"format":".1f"}},
      "y2":{"field":"hi"}}},
    {"data":{"name":"boxF"},"mark":{"type":"bar","size":18,"fill":"#e4a0c8","stroke":"#555","strokeWidth":1},
     "encoding":{"x":{"field":"trait","type":"nominal","axis":{"title":null,"labelAngle":-45,"labelFontSize":7.5}},"y":{"field":"q1","type":"quantitative","axis":{"title":"ϕ̂","values":[-5,-2.5,0,2.5,5],"format":".1f"}},"y2":{"field":"q3"}}},
    {"data":{"name":"boxF"},"mark":{"type":"tick","size":18,"thickness":2,"color":"#40202f"},
     "encoding":{"x":{"field":"trait","type":"nominal","axis":{"title":null,"labelAngle":-45,"labelFontSize":7.5}},"y":{"field":"med","type":"quantitative","axis":{"title":"ϕ̂","values":[-5,-2.5,0,2.5,5],"format":".1f"}}}},
    {"data":{"name":"outF"},"mark":{"type":"circle","size":18,"color":"#333","opacity":1},
     "encoding":{"x":{"field":"trait","type":"nominal","axis":{"title":null,"labelAngle":-45,"labelFontSize":7.5}},"y":{"field":"v","type":"quantitative","axis":{"title":"ϕ̂","values":[-5,-2.5,0,2.5,5],"format":".1f"}}}},
    {"data":{"name":"refF"},"mark":{"type":"rule","color":"#555","strokeDash":[2,3],"strokeWidth":1},
     "encoding":{"y":{"field":"ref","type":"quantitative","axis":{"title":"ϕ̂","values":[-5,-2.5,0,2.5,5],"format":".1f"}}}}
   ]}
 ],"spacing":14}
],"spacing":1},
{"vconcat":[
  {"width":99,"height":46,"data":{"name":"gdat"},"transform":[{"filter":"datum.trait==='height'"}],
   "title":{"text":"G","anchor":"start","frame":"bounds","fontSize":11,"offset":4},
   "resolve":{"axis":{"x":"independent"}},
   "layer":[
    {"mark":{"type":"area","color":"#bebebe","opacity":1},"encoding":{"x":{"field":"x","type":"quantitative","scale":{"type":"log","domain":[0.017,1.14],"nice":false},"axis":{"title":"x (DAF)","values":[0.1,1],"format":".1f","labelFontSize":5,"titleFontSize":7,"tickSize":2,"titlePadding":4}},"y":{"field":"lo","type":"quantitative","scale":{"domain":[-1.4,0.77],"nice":false,"zero":false},"axis":{"title":"Sβ(x) (scaled)","values":[-1,-0.5,0,0.5],"format":".1f","labelFontSize":5,"titleFontSize":6.5,"tickSize":2}},"y2":{"field":"hi"}}},
    {"mark":{"type":"line","color":"#000","strokeDash":[1,2],"strokeWidth":1},"encoding":{"x":{"field":"x","type":"quantitative","axis":null},"y":{"field":"s","type":"quantitative","axis":{"title":"Sβ(x) (scaled)","values":[-1,-0.5,0,0.5],"format":".1f","labelFontSize":5,"titleFontSize":6.5,"tickSize":2}}}},
    {"mark":{"type":"circle","color":"#000","size":14,"opacity":1},"encoding":{"x":{"field":"x","type":"quantitative","axis":{"orient":"top","title":"height","labels":false,"ticks":false,"domain":false,"titleFontWeight":"bold","titleFontSize":7,"titlePadding":2,"minExtent":0,"maxExtent":0}},"y":{"field":"s","type":"quantitative","axis":{"title":"Sβ(x) (scaled)","values":[-1,-0.5,0,0.5],"format":".1f","labelFontSize":5,"titleFontSize":6.5,"tickSize":2}}}}]},
  {"width":99,"height":46,"data":{"name":"gdat"},"transform":[{"filter":"datum.trait==='BMI'"}],
   "resolve":{"axis":{"x":"independent"}},
   "layer":[
    {"mark":{"type":"area","color":"#bebebe","opacity":1},"encoding":{"x":{"field":"x","type":"quantitative","scale":{"type":"log","domain":[0.017,1.14],"nice":false},"axis":{"title":"x (DAF)","values":[0.1,1],"format":".1f","labelFontSize":5,"titleFontSize":7,"tickSize":2,"titlePadding":4}},"y":{"field":"lo","type":"quantitative","scale":{"domain":[-0.85,0.9],"nice":false,"zero":false},"axis":{"title":"Sβ(x) (scaled)","values":[-0.5,0,0.5],"format":".1f","labelFontSize":5,"titleFontSize":6.5,"tickSize":2}},"y2":{"field":"hi"}}},
    {"mark":{"type":"line","color":"#000","strokeDash":[1,2],"strokeWidth":1},"encoding":{"x":{"field":"x","type":"quantitative","axis":null},"y":{"field":"s","type":"quantitative","axis":{"title":"Sβ(x) (scaled)","values":[-0.5,0,0.5],"format":".1f","labelFontSize":5,"titleFontSize":6.5,"tickSize":2}}}},
    {"mark":{"type":"circle","color":"#000","size":14,"opacity":1},"encoding":{"x":{"field":"x","type":"quantitative","axis":{"orient":"top","title":"BMI","labels":false,"ticks":false,"domain":false,"titleFontWeight":"bold","titleFontSize":7,"titlePadding":2,"minExtent":0,"maxExtent":0}},"y":{"field":"s","type":"quantitative","axis":{"title":"Sβ(x) (scaled)","values":[-0.5,0,0.5],"format":".1f","labelFontSize":5,"titleFontSize":6.5,"tickSize":2}}}}]},
  {"width":99,"height":46,"data":{"name":"gdat"},"transform":[{"filter":"datum.trait==='education'"}],
   "resolve":{"axis":{"x":"independent"}},
   "layer":[
    {"mark":{"type":"area","color":"#bebebe","opacity":1},"encoding":{"x":{"field":"x","type":"quantitative","scale":{"type":"log","domain":[0.017,1.14],"nice":false},"axis":{"title":"x (DAF)","values":[0.1,1],"format":".1f","labelFontSize":5,"titleFontSize":7,"tickSize":2,"titlePadding":4}},"y":{"field":"lo","type":"quantitative","scale":{"domain":[-0.3,1.0],"nice":false,"zero":false},"axis":{"title":"Sβ(x) (scaled)","values":[0,0.5],"format":".1f","labelFontSize":5,"titleFontSize":6.5,"tickSize":2}},"y2":{"field":"hi"}}},
    {"mark":{"type":"line","color":"#000","strokeDash":[1,2],"strokeWidth":1},"encoding":{"x":{"field":"x","type":"quantitative","axis":null},"y":{"field":"s","type":"quantitative","axis":{"title":"Sβ(x) (scaled)","values":[0,0.5],"format":".1f","labelFontSize":5,"titleFontSize":6.5,"tickSize":2}}}},
    {"mark":{"type":"circle","color":"#000","size":14,"opacity":1},"encoding":{"x":{"field":"x","type":"quantitative","axis":{"orient":"top","title":"education","labels":false,"ticks":false,"domain":false,"titleFontWeight":"bold","titleFontSize":7,"titlePadding":2,"minExtent":0,"maxExtent":0}},"y":{"field":"s","type":"quantitative","axis":{"title":"Sβ(x) (scaled)","values":[0,0.5],"format":".1f","labelFontSize":5,"titleFontSize":6.5,"tickSize":2}}}}]},
  {"width":99,"height":46,"data":{"name":"gdat"},"transform":[{"filter":"datum.trait==='schizophrenia'"}],
   "resolve":{"axis":{"x":"independent"}},
   "layer":[
    {"mark":{"type":"area","color":"#bebebe","opacity":1},"encoding":{"x":{"field":"x","type":"quantitative","scale":{"type":"log","domain":[0.017,1.14],"nice":false},"axis":{"title":"x (DAF)","values":[0.1,1],"format":".1f","labelFontSize":5,"titleFontSize":7,"tickSize":2,"titlePadding":4}},"y":{"field":"lo","type":"quantitative","scale":{"domain":[-1.03,0.07],"nice":false,"zero":false},"axis":{"title":"Sβ(x) (scaled)","values":[-1,-0.75,-0.5,-0.25,0],"format":".2f","labelFontSize":5,"titleFontSize":6.5,"tickSize":2}},"y2":{"field":"hi"}}},
    {"mark":{"type":"line","color":"#000","strokeDash":[1,2],"strokeWidth":1},"encoding":{"x":{"field":"x","type":"quantitative","axis":null},"y":{"field":"s","type":"quantitative","axis":{"title":"Sβ(x) (scaled)","values":[-1,-0.75,-0.5,-0.25,0],"format":".2f","labelFontSize":5,"titleFontSize":6.5,"tickSize":2}}}},
    {"mark":{"type":"circle","color":"#000","size":14,"opacity":1},"encoding":{"x":{"field":"x","type":"quantitative","axis":{"orient":"top","title":"schizophrenia","labels":false,"ticks":false,"domain":false,"titleFontWeight":"bold","titleFontSize":7,"titlePadding":2,"minExtent":0,"maxExtent":0}},"y":{"field":"s","type":"quantitative","axis":{"title":"Sβ(x) (scaled)","values":[-1,-0.75,-0.5,-0.25,0],"format":".2f","labelFontSize":5,"titleFontSize":6.5,"tickSize":2}}}}]},
  {"width":99,"height":46,"data":{"name":"gdat"},"transform":[{"filter":"datum.trait==='Crohn\\'s'"}],
   "resolve":{"axis":{"x":"independent"}},
   "layer":[
    {"mark":{"type":"area","color":"#bebebe","opacity":1},"encoding":{"x":{"field":"x","type":"quantitative","scale":{"type":"log","domain":[0.017,1.14],"nice":false},"axis":{"title":"x (DAF)","values":[0.1,1],"format":".1f","labelFontSize":5,"titleFontSize":7,"tickSize":2,"titlePadding":4}},"y":{"field":"lo","type":"quantitative","scale":{"domain":[-0.67,1.18],"nice":false,"zero":false},"axis":{"title":"Sβ(x) (scaled)","values":[-0.5,0,0.5,1],"format":".1f","labelFontSize":5,"titleFontSize":6.5,"tickSize":2}},"y2":{"field":"hi"}}},
    {"mark":{"type":"line","color":"#000","strokeDash":[1,2],"strokeWidth":1},"encoding":{"x":{"field":"x","type":"quantitative","axis":null},"y":{"field":"s","type":"quantitative","axis":{"title":"Sβ(x) (scaled)","values":[-0.5,0,0.5,1],"format":".1f","labelFontSize":5,"titleFontSize":6.5,"tickSize":2}}}},
    {"mark":{"type":"circle","color":"#000","size":14,"opacity":1},"encoding":{"x":{"field":"x","type":"quantitative","axis":{"orient":"top","title":"Crohn's","labels":false,"ticks":false,"domain":false,"titleFontWeight":"bold","titleFontSize":7,"titlePadding":2,"minExtent":0,"maxExtent":0}},"y":{"field":"s","type":"quantitative","axis":{"title":"Sβ(x) (scaled)","values":[-0.5,0,0.5,1],"format":".1f","labelFontSize":5,"titleFontSize":6.5,"tickSize":2}}}}]}
 ],"spacing":25}
],"spacing":28}
